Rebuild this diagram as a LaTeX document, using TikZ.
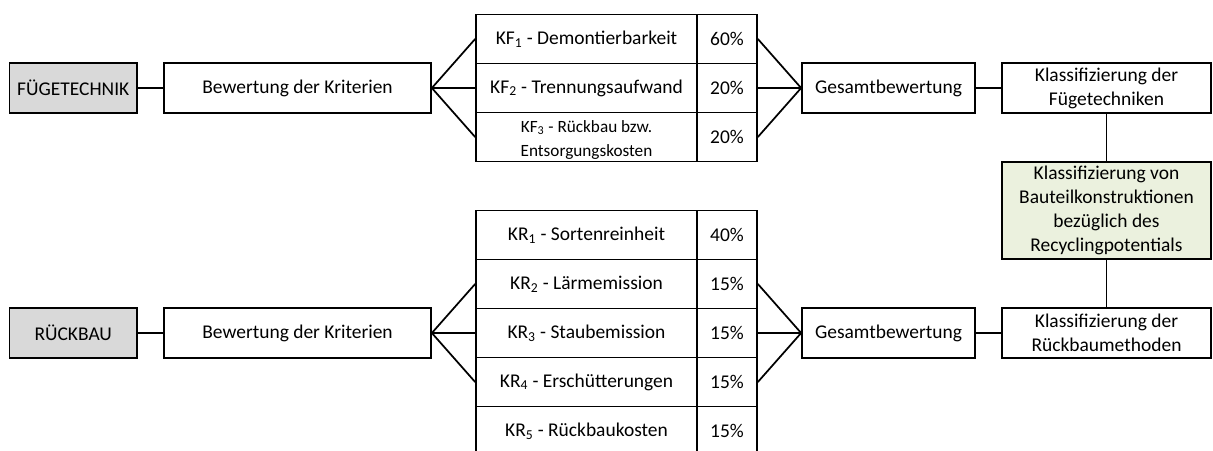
\documentclass[tikz,border=0pt]{standalone}
\usepackage{fontspec}
\setmainfont{Carlito}
\definecolor{headgray}{HTML}{D9D9D9}
\definecolor{resultgreen}{HTML}{EBF1DE}
\begin{document}
\begin{tikzpicture}[x=0.75pt,y=-0.75pt,
  box/.style={draw=black, line width=1.3pt, fill=white, inner sep=0pt, align=center,
    font=\fontsize{14.6}{18}\selectfont},
  small/.style={font=\fontsize{12.9}{18}\selectfont},
  bw/.style={minimum width=#1*0.75pt},
  bh/.style={minimum height=#1*0.75pt},
  head/.style={box, fill=headgray, bw=127.5, bh=50},
  crit/.style={box, bw=221, bh=49},
  pct/.style={box, bw=60, bh=49},
  link/.style={draw=black, line width=1.3pt}]
\useasboundingbox (0,0) rectangle (1213,450);
\clip (0,0) rectangle (1213,450);

% upper branch: joining techniques
\node[head] (fuege) at (73.25,88) {FÜGETECHNIK};
\node[box, bw=267, bh=50] (bewF) at (297.5,88) {Bewertung der Kriterien};
\node[crit] (kf1) at (586.5,39) {KF\textsubscript{1} - Demontierbarkeit};
\node[pct]  (kf1p) at (727,39) {60\%};
\node[crit] (kf2) at (586.5,88) {KF\textsubscript{2} - Trennungsaufwand};
\node[pct]  (kf2p) at (727,88) {20\%};
\node[crit] (kf3) at (586.5,137) {};
\node[small, align=center, inner sep=0pt] (kf3t) at (586.5,140) {KF\textsubscript{3} - Rückbau bzw.\\Entsorgungskosten};
\node[pct]  (kf3p) at (727,137) {20\%};
\node[box, bw=173, bh=50] (gesF) at (888.5,88) {Gesamtbewertung};
\node[box, bw=209, bh=50] (klF) at (1106.5,88) {Klassifizierung der\\Fügetechniken};

% result
\node[box, fill=resultgreen, bw=209, bh=97] (res) at (1106.5,210.5)
  {Klassifizierung von\\Bauteilkonstruktionen\\bezüglich des\\Recyclingpotentials};

% lower branch: demolition
\node[head] (rueck) at (73.25,333) {RÜCKBAU};
\node[box, bw=267, bh=50] (bewR) at (297.5,333) {Bewertung der Kriterien};
\node[crit] (kr1) at (586.5,235) {KR\textsubscript{1} - Sortenreinheit};
\node[pct]  (kr1p) at (727,235) {40\%};
\node[crit] (kr2) at (586.5,284) {KR\textsubscript{2} - Lärmemission};
\node[pct]  (kr2p) at (727,284) {15\%};
\node[crit] (kr3) at (586.5,333) {KR\textsubscript{3} - Staubemission};
\node[pct]  (kr3p) at (727,333) {15\%};
\node[crit] (kr4) at (586.5,382) {KR\textsubscript{4} - Erschütterungen};
\node[pct]  (kr4p) at (727,382) {15\%};
\node[crit] (kr5) at (586.5,431) {KR\textsubscript{5} - Rückbaukosten};
\node[pct]  (kr5p) at (727,431) {15\%};
\node[box, bw=173, bh=50] (gesR) at (888.5,333) {Gesamtbewertung};
\node[box, bw=209, bh=50] (klR) at (1106.5,333) {Klassifizierung der\\Rückbaumethoden};

% connectors
\path[link] (fuege) -- (bewF);
\path[link] (bewF.east) -- (kf1.west) (bewF.east) -- (kf2.west) (bewF.east) -- (kf3.west);
\path[link] (kf1p.east) -- (gesF.west) (kf2p.east) -- (gesF.west) (kf3p.east) -- (gesF.west);
\path[link] (gesF) -- (klF);
\path[link] (klF) -- (res);
\path[link] (res) -- (klR);
\path[link] (rueck) -- (bewR);
\path[link] (bewR.east) -- (kr2.west) (bewR.east) -- (kr3.west) (bewR.east) -- (kr4.west);
\path[link] (kr2p.east) -- (gesR.west) (kr3p.east) -- (gesR.west) (kr4p.east) -- (gesR.west);
\path[link] (gesR) -- (klR);
\end{tikzpicture}
\end{document}
